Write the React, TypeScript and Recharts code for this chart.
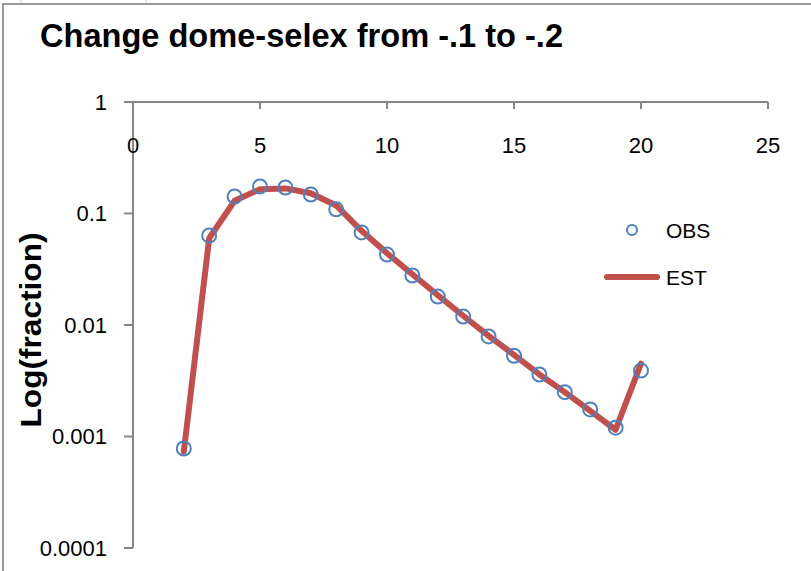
import { ComposedChart, Line, Scatter, XAxis, YAxis, Legend } from "recharts";

// ages (x) and fractions
const ages = [2, 3, 4, 5, 6, 7, 8, 9, 10, 11, 12, 13, 14, 15, 16, 17, 18, 19, 20];
const obsValues = [
  0.00078, 0.0635, 0.142, 0.175, 0.171, 0.148, 0.109, 0.0676, 0.0428, 0.0278,
  0.018, 0.0119, 0.0079, 0.0053, 0.0036, 0.0025, 0.00175, 0.0012, 0.0039,
];
const estValues = [
  0.00073, 0.06, 0.13, 0.165, 0.168, 0.152, 0.118, 0.07, 0.044, 0.0285,
  0.0185, 0.0121, 0.008, 0.0054, 0.0036, 0.0025, 0.0017, 0.00115, 0.0045,
];
const xTicks = [0, 5, 10, 15, 20, 25];
const yTicks = [0.0001, 0.001, 0.01, 0.1, 1];

const data = ages.map((age, i) => ({ age, obs: obsValues[i], est: estValues[i] }));

const AXIS = "#868686";
const OBS_COLOR = "#4F81BD";
const EST_COLOR = "#C0504D";
const FONT = "'Liberation Sans', Arial, sans-serif";

const renderLegend = (props: any) => {
  const items = props.payload ?? [];
  const obs = items.find((p: any) => p.dataKey === "obs");
  const est = items.find((p: any) => p.dataKey === "est");
  return (
    <svg width={130} height={80} style={{ overflow: "visible", display: "block" }}>
      <circle cx={32} cy={15} r={5} fill="none" stroke={OBS_COLOR} strokeWidth={2} />
      <text x={66} y={15} dominantBaseline="central" fontFamily={FONT} fontSize={21} fill="#000">
        {obs?.value ?? "OBS"}
      </text>
      <line x1={7} x2={57} y1={62} y2={62} stroke={EST_COLOR} strokeWidth={6} strokeLinecap="round" />
      <text x={66} y={62} dominantBaseline="central" fontFamily={FONT} fontSize={21} fill="#000">
        {est?.value ?? "EST"}
      </text>
    </svg>
  );
};

const HollowDot = (p: any) => (
  <circle cx={p.cx} cy={p.cy} r={7} fill="none" stroke={OBS_COLOR} strokeWidth={2} />
);

export default function App() {
  return (
    <div style={{ position: "absolute", left: 0, top: 0, width: 811, height: 571, background: "#fff" }}>
      <ComposedChart
        width={811}
        height={571}
        data={data}
        margin={{ top: 102, right: 43, bottom: 23, left: 53 }}
      >
        <XAxis
          type="number"
          dataKey="age"
          domain={[0, 25]}
          ticks={xTicks}
          interval={0}
          orientation="top"
          mirror
          tickSize={7}
          tickMargin={28}
          axisLine={{ stroke: AXIS, strokeWidth: 2 }}
          tickLine={{ stroke: AXIS, strokeWidth: 2 }}
          tick={{ fill: "#000", fontSize: 22, fontFamily: FONT }}
        />
        <YAxis
          type="number"
          scale="log"
          domain={[0.0001, 1]}
          allowDataOverflow
          ticks={yTicks}
          interval={0}
          width={80}
          tickSize={9}
          tickMargin={17}
          tickFormatter={(v: number) => String(v)}
          axisLine={{ stroke: AXIS, strokeWidth: 2 }}
          tickLine={{ stroke: AXIS, strokeWidth: 2 }}
          tick={{ fill: "#000", fontSize: 22, fontFamily: FONT }}
        />
        <Legend
          layout="horizontal"
          verticalAlign="middle"
          align="center"
          content={renderLegend}
          wrapperStyle={{ left: 600, top: 215, width: 130, height: 80 }}
        />
        <Line
          type="linear"
          dataKey="est"
          name="EST"
          stroke={EST_COLOR}
          strokeWidth={6}
          strokeLinejoin="round"
          strokeLinecap="round"
          dot={false}
          activeDot={false}
          isAnimationActive={false}
        />
        <Scatter dataKey="obs" name="OBS" shape={HollowDot} isAnimationActive={false} />
      </ComposedChart>
      <svg
        width={811}
        height={571}
        style={{ position: "absolute", left: 0, top: 0, pointerEvents: "none" }}
      >
        <line x1={21} x2={21} y1={0} y2={4} stroke="#d0d0d0" strokeWidth={1} />
        <line x1={146} x2={146} y1={0} y2={4} stroke="#d0d0d0" strokeWidth={1} />
        <line x1={2} x2={811} y1={4} y2={4} stroke="#9a9a9a" strokeWidth={2} />
        <line x1={3} x2={3} y1={4} y2={571} stroke="#9a9a9a" strokeWidth={2} />
        <text
          x={40}
          y={47}
          fontFamily={FONT}
          fontWeight="bold"
          fontSize={34}
          textLength={523}
          lengthAdjust="spacingAndGlyphs"
          fill="#000"
        >
          Change dome-selex from -.1 to -.2
        </text>
        <text
          transform="translate(41,330) rotate(-90)"
          textAnchor="middle"
          fontFamily={FONT}
          fontWeight="bold"
          fontSize={30}
          textLength={195}
          lengthAdjust="spacingAndGlyphs"
          fill="#000"
        >
          Log(fraction)
        </text>
      </svg>
    </div>
  );
}
